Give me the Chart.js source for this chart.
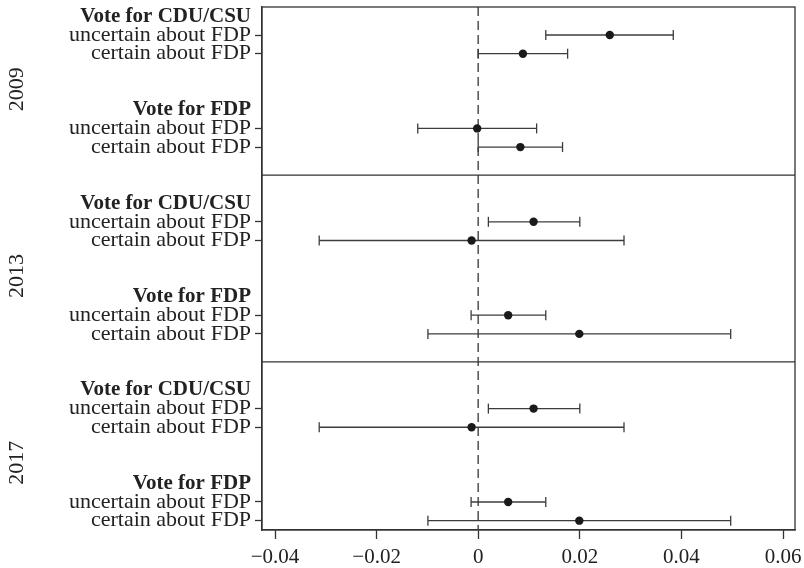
<!DOCTYPE html>
<html>
<head>
<meta charset="utf-8">
<script src="https://cdn.jsdelivr.net/npm/chart.js@4.4.1/dist/chart.umd.min.js"></script>
<style>
  html, body { margin: 0; padding: 0; background: #fff; }
</style>
</head>
<body>
<canvas id="myChart" width="804" height="568"></canvas>
<script>
'use strict'

var years = ['2009', '2013', '2017'];
var groups = ['Vote for CDU/CSU', 'Vote for FDP'];
var subgroups = ['uncertain about FDP', 'certain about FDP'];

// order in each year: CDU/CSU uncertain, CDU/CSU certain, FDP uncertain, FDP certain
var est2009 = [0.0259, 0.0088, -0.0002, 0.0083];
var lo2009 = [0.0133, 0.0000, -0.0119, 0.0000];
var hi2009 = [0.0384, 0.0176, 0.0115, 0.0166];

var est2013 = [0.0109, -0.0013, 0.0059, 0.0199];
var lo2013 = [0.0020, -0.0313, -0.0014, -0.0099];
var hi2013 = [0.0200, 0.0287, 0.0133, 0.0497];

var est2017 = [0.0109, -0.0013, 0.0059, 0.0199];
var lo2017 = [0.0020, -0.0313, -0.0014, -0.0099];
var hi2017 = [0.0200, 0.0287, 0.0133, 0.0497];

var xTicks = [-0.04, -0.02, 0, 0.02, 0.04, 0.06];
var xTickLabels = ['\u22120.04', '\u22120.02', '0', '0.02', '0.04', '0.06'];

var estimates = [est2009, est2013, est2017];
var lowers = [lo2009, lo2013, lo2017];
var uppers = [hi2009, hi2013, hi2017];

var FONT = "'Liberation Serif', 'DejaVu Serif', serif";
var INK = '#333333';

// rows: each year block is 10 units tall, each group 5 units
var rowTicks = [];
var pointData = [];
var barSets = [];
years.forEach(function(year, p) {
  groups.forEach(function(group, g) {
    var base = p * 10 + g * 5;
    rowTicks.push({ value: base, label: group, heading: true });
    subgroups.forEach(function(sub, s) {
      var y = base + 1 + s;
      var k = g * 2 + s;
      rowTicks.push({ value: y, label: sub, heading: false });
      pointData.push({ x: estimates[p][k], y: y });
      barSets.push({
        type: 'line',
        data: [{ x: lowers[p][k], y: y }, { x: uppers[p][k], y: y }],
        borderColor: '#3c3c3c',
        borderWidth: 1.3,
        pointStyle: 'line',
        pointRotation: 90,
        pointRadius: 5,
        pointBorderWidth: 1.3,
        pointBorderColor: '#3c3c3c'
      });
    });
  });
});

var yMin = -0.5;
var yMax = 27.5;

var datasets = [{
  type: 'scatter',
  data: pointData,
  backgroundColor: '#1a1a1a',
  borderWidth: 0,
  pointRadius: 4.2
}].concat(barSets).concat([{
  type: 'line',
  data: [{ x: 0, y: yMin }, { x: 0, y: yMax }],
  borderColor: '#5a5a5a',
  borderWidth: 1.6,
  borderDash: [9, 5],
  pointRadius: 0
}]);

var framePlugin = {
  id: 'frame',
  afterDraw: function(chart) {
    var c = chart.ctx;
    var a = chart.chartArea;
    var ys = chart.scales.y;
    c.save();
    c.strokeStyle = INK;
    c.lineWidth = 1.3;
    c.strokeRect(a.left, a.top, a.right - a.left, a.bottom - a.top);
    [8.5, 18.5].forEach(function(v) {
      var py = ys.getPixelForValue(v);
      c.beginPath();
      c.moveTo(a.left, py);
      c.lineTo(a.right, py);
      c.stroke();
    });
    c.fillStyle = '#222';
    c.font = '22px ' + FONT;
    c.textAlign = 'center';
    c.textBaseline = 'middle';
    years.forEach(function(year, p) {
      var py = ys.getPixelForValue(p * 10 + 3.9);
      c.save();
      c.translate(17, py);
      c.rotate(-Math.PI / 2);
      c.fillText(year, 0, 0);
      c.restore();
    });
    c.restore();
  }
};

var ctx = document.getElementById('myChart');
var chart = new Chart(ctx, {
  type: 'scatter',
  data: { datasets: datasets },
  plugins: [framePlugin],
  options: {
    responsive: false,
    animation: false,
    devicePixelRatio: 1,
    layout: { padding: { left: 0, top: 7, right: 9, bottom: 0 } },
    plugins: {
      legend: { display: false },
      tooltip: { enabled: false }
    },
    scales: {
      x: {
        type: 'linear',
        min: -0.04256,
        max: 0.06236,
        afterBuildTicks: function(scale) {
          scale.ticks = xTicks.map(function(v) { return { value: v }; });
        },
        afterFit: function(scale) {
          scale.height = 38;
          scale.paddingLeft = 0;
          scale.paddingRight = 0;
        },
        grid: { drawOnChartArea: false, tickLength: 9, tickColor: INK, tickWidth: 1.3 },
        border: { display: true, color: INK, width: 1.3 },
        ticks: {
          autoSkip: false,
          maxRotation: 0,
          padding: 6,
          color: '#222',
          font: { family: FONT, size: 21 },
          callback: function(v, i) { return xTickLabels[i]; }
        }
      },
      y: {
        type: 'linear',
        reverse: true,
        min: yMin,
        max: yMax,
        afterBuildTicks: function(scale) {
          scale.ticks = rowTicks.map(function(r) { return { value: r.value }; });
        },
        afterFit: function(scale) {
          scale.width = 262;
          scale.paddingTop = 0;
          scale.paddingBottom = 0;
        },
        grid: {
          drawOnChartArea: false,
          tickLength: 7,
          tickWidth: 1.3,
          tickColor: function(c) {
            var r = rowTicks[c.index];
            return r && r.heading ? 'rgba(0,0,0,0)' : INK;
          }
        },
        border: { display: true, color: INK, width: 1.3 },
        ticks: {
          autoSkip: false,
          padding: 4,
          color: '#222',
          font: function(c) {
            var r = rowTicks[c.index];
            var bold = r && r.heading;
            return { family: FONT, size: bold ? 21 : 22, weight: bold ? 'bold' : 'normal' };
          },
          callback: function(v, i) { return rowTicks[i].label; }
        }
      }
    }
  }
});
</script>
</body>
</html>
